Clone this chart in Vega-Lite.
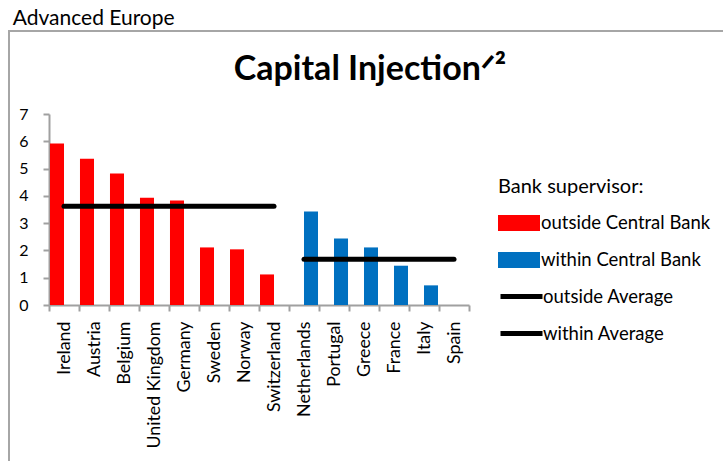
{
  "$schema": "https://vega.github.io/schema/vega-lite/v6.json",
  "background": "white",
  "padding": {"left": 8, "top": 8, "right": 0, "bottom": 0},
  "title": {"text": "Advanced Europe", "anchor": "start", "frame": "bounds", "font": "Lato", "fontSize": 21, "fontWeight": "normal", "color": "#000000", "dx": 4.7, "offset": 1},
  "config": {
    "view": {"stroke": null},
    "font": "Lato",
    "axis": {"grid": false, "domainColor": "#A0A0A0", "domainWidth": 2, "tickColor": "#A0A0A0", "tickWidth": 2, "labelColor": "#000000", "labelFont": "Lato"},
    "legend": {"strokeWidth": 2}
  },
  "vconcat": [
    {
      "width": 420,
      "height": 191,
      "title": {"text": "Capital Injection\u141F\u00B2", "anchor": "middle", "frame": "group", "font": "Lato", "fontSize": 34, "fontWeight": "bold", "color": "#000000", "dx": 111, "offset": 19.5},
      "data": {"values": [
        {"country": "Ireland", "value": 5.92, "supervisor": "outside Central Bank", "avg": 3.62, "avgLabel": "outside Average"},
        {"country": "Austria", "value": 5.36, "supervisor": "outside Central Bank", "avg": 3.62, "avgLabel": "outside Average"},
        {"country": "Belgium", "value": 4.82, "supervisor": "outside Central Bank", "avg": 3.62, "avgLabel": "outside Average"},
        {"country": "United Kingdom", "value": 3.93, "supervisor": "outside Central Bank", "avg": 3.62, "avgLabel": "outside Average"},
        {"country": "Germany", "value": 3.83, "supervisor": "outside Central Bank", "avg": 3.62, "avgLabel": "outside Average"},
        {"country": "Sweden", "value": 2.11, "supervisor": "outside Central Bank", "avg": 3.62, "avgLabel": "outside Average"},
        {"country": "Norway", "value": 2.04, "supervisor": "outside Central Bank", "avg": 3.62, "avgLabel": "outside Average"},
        {"country": "Switzerland", "value": 1.12, "supervisor": "outside Central Bank", "avg": 3.62, "avgLabel": "outside Average"},
        {"country": "Netherlands", "value": 3.43, "supervisor": "within Central Bank", "avg": 1.68, "avgLabel": "within Average"},
        {"country": "Portugal", "value": 2.44, "supervisor": "within Central Bank", "avg": 1.68, "avgLabel": "within Average"},
        {"country": "Greece", "value": 2.11, "supervisor": "within Central Bank", "avg": 1.68, "avgLabel": "within Average"},
        {"country": "France", "value": 1.44, "supervisor": "within Central Bank", "avg": 1.68, "avgLabel": "within Average"},
        {"country": "Italy", "value": 0.72, "supervisor": "within Central Bank", "avg": 1.68, "avgLabel": "within Average"},
        {"country": "Spain", "value": 0, "supervisor": "within Central Bank", "avg": 1.68, "avgLabel": "within Average"}
      ]},
      "encoding": {
        "x": {
          "field": "country", "type": "nominal",
          "scale": {
            "domain": ["Ireland", "Austria", "Belgium", "United Kingdom", "Germany", "Sweden", "Norway", "Switzerland", "Netherlands", "Portugal", "Greece", "France", "Italy", "Spain"],
            "paddingInner": 0, "paddingOuter": 0
          },
          "axis": {"title": null, "labelAngle": -90, "labelFontSize": 17.8, "tickBand": "extent", "tickSize": 6, "labelPadding": 10}
        },
        "y": {
          "type": "quantitative",
          "scale": {"domain": [0, 7], "nice": false},
          "axis": {"title": null, "values": [0, 1, 2, 3, 4, 5, 6, 7], "labelFontSize": 16, "tickSize": 6, "labelPadding": 15}
        }
      },
      "layer": [
        {
          "mark": {"type": "bar"},
          "encoding": {
            "y": {"field": "value", "type": "quantitative"},
            "xOffset": {"field": "supervisor", "type": "nominal", "scale": {"domain": ["outside Central Bank", "within Central Bank"], "paddingInner": 0, "paddingOuter": 0.07}},
            "color": {
              "field": "supervisor", "type": "nominal",
              "scale": {"domain": ["outside Central Bank", "within Central Bank"], "range": ["#FF0000", "#0070C0"]},
              "legend": {
                "title": "Bank supervisor:", "orient": "none", "legendX": 449, "legendY": 63,
                "titleFont": "Lato", "titleFontSize": 20, "titleFontWeight": "normal", "titleColor": "#000000", "titlePadding": 5,
                "labelFont": "Lato", "labelFontSize": 18.5, "labelColor": "#000000", "labelOffset": 1, "labelLimit": 300,
                "symbolType": "M-1,-0.38H1V0.38H-1Z", "symbolSize": 1764, "symbolStrokeWidth": 0, "rowPadding": 6, "padding": 0
              }
            },
            "opacity": {
              "field": "country", "type": "nominal",
              "scale": {"range": [1, 1]},
              "legend": {
                "title": null, "orient": "none", "legendX": -40, "legendY": -83, "values": ["Ireland"],
                "padding": 362, "strokeColor": "#A6A6A6", "labelExpr": "''", "symbolFillColor": "#ffffff", "symbolStrokeColor": "#ffffff", "symbolSize": 1, "symbolStrokeWidth": 0
              }
            }
          }
        },
        {
          "mark": {"type": "line", "strokeWidth": 5, "strokeCap": "round"},
          "encoding": {
            "y": {"field": "avg", "type": "quantitative"},
            "stroke": {
              "field": "avgLabel", "type": "nominal",
              "scale": {"domain": ["outside Average", "within Average"], "range": ["#000000", "#000000"]},
              "legend": {
                "title": null, "orient": "none", "legendX": 449, "legendY": 159,
                "labelFont": "Lato", "labelFontSize": 18.5, "labelColor": "#000000", "labelOffset": -2, "labelLimit": 300,
                "symbolType": "stroke", "symbolSize": 1764, "symbolStrokeWidth": 5, "rowPadding": 3, "padding": 0
              }
            }
          }
        }
      ]
    }
  ]
}
